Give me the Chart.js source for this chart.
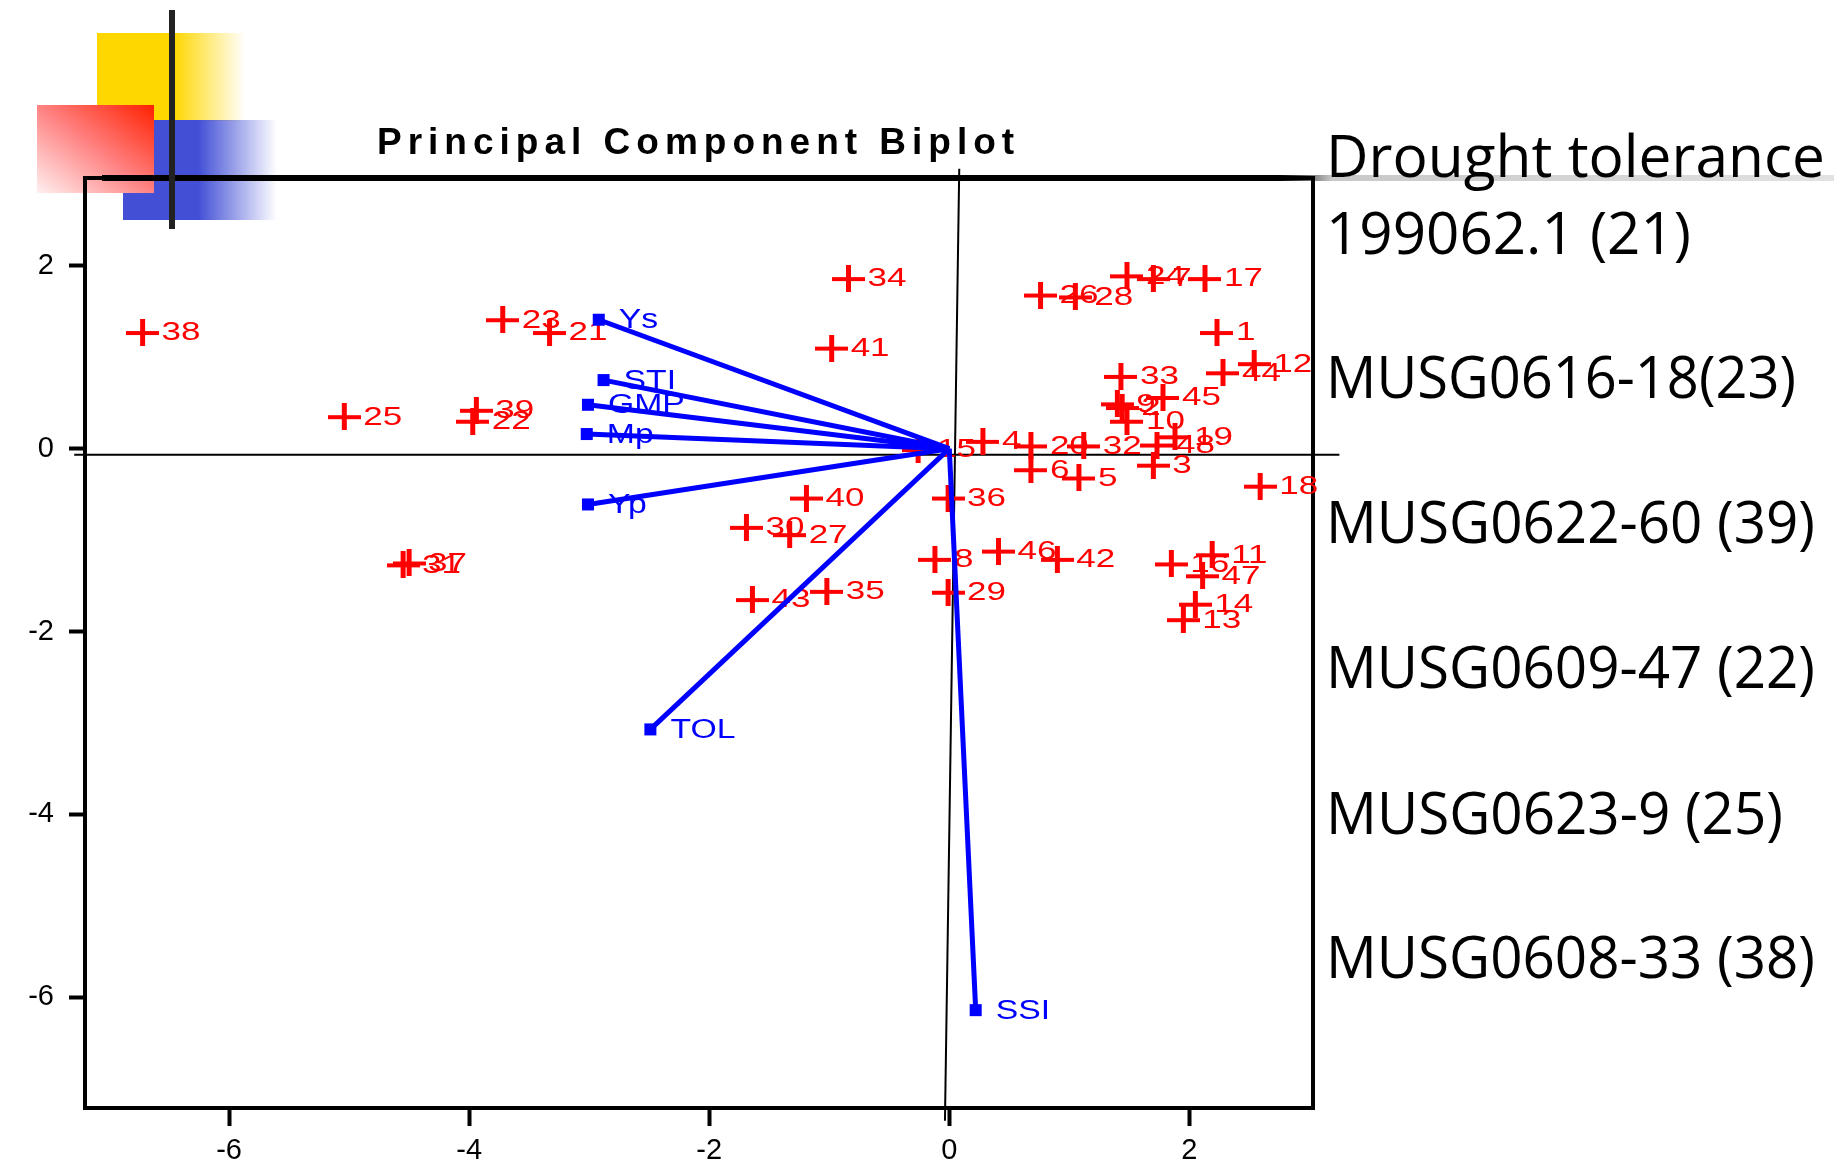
<!DOCTYPE html>
<html>
<head>
<meta charset="utf-8">
<script src="https://cdn.jsdelivr.net/npm/chart.js@4.4.1/dist/chart.umd.min.js"></script>
<style>
  html, body { margin: 0; padding: 0; background: #fff; }
  #wrap { position: relative; width: 1834px; height: 1165px; overflow: hidden; }
  .deco { position: absolute; }
  #yellow { left: 97px; top: 33px; width: 148px; height: 88px;
    background: linear-gradient(to right, #ffd700 0%, #ffd700 52%, rgba(255,255,255,0) 100%); }
  #blue { left: 123px; top: 120px; width: 154px; height: 100px;
    background: linear-gradient(to right, #4350d6 0%, #4350d6 49%, rgba(255,255,255,0) 100%); }
  #red { left: 37px; top: 105px; width: 117px; height: 88px;
    background: linear-gradient(to bottom left, #ff2000 0%, #ff8282 50%, #fff0f0 100%); }
  #rule { left: 102px; top: 175px; width: 1732px; height: 6px;
    background: linear-gradient(to right, #000 0%, #000 68%, #c8c8c8 71%, #e2e2e2 100%); }
  #bar { left: 169px; top: 10px; width: 6px; height: 219px; background: #222; z-index: 3; }
  canvas { position: absolute; left: 0; top: 0; z-index: 2; }
</style>
</head>
<body>
<div id="wrap">
  <div class="deco" id="yellow"></div>
  <div class="deco" id="blue"></div>
  <div class="deco" id="red"></div>
  <div class="deco" id="rule"></div>
  <canvas id="biplot" width="1834" height="1165"></canvas>
  <div class="deco" id="bar"></div>
</div>
<script>
// genotype scores (PC1, PC2)
const genoIds = ['1','2','3','4','5','6','7','8','9','10','11','12','13','14','15','16',
  '17','18','19','20','21','22','23','24','25','26','27','28','29','30','31','32',
  '33','34','35','36','37','38','39','40','41','42','43','44','45','46','47','48'];
const pc1 = [2.23, 1.44, 1.70, 0.28, 1.08, 0.68, 1.70, -0.12, 1.40, 1.48, 2.19, 2.54, 1.95, 2.05, -0.26, 1.85,
  2.13, 2.59, 1.88, 0.68, -3.33, -3.97, -3.72, 1.48, -5.04, 0.76, -1.33, 1.05, -0.01, -1.69, -4.55, 1.12,
  1.43, -0.84, -1.02, -0.01, -4.50, -6.72, -3.94, -1.19, -0.98, 0.90, -1.64, 2.28, 1.78, 0.41, 2.11, 1.73];
const pc2 = [1.27, 0.45, -0.18, 0.08, -0.32, -0.23, 1.86, -1.21, 0.49, 0.30, -1.16, 0.93, -1.87, -1.70, -0.01, -1.26,
  1.86, -0.41, 0.13, 0.03, 1.27, 0.30, 1.41, 1.89, 0.35, 1.68, -0.94, 1.66, -1.57, -0.86, -1.27, 0.03,
  0.79, 1.86, -1.56, -0.54, -1.25, 1.27, 0.42, -0.54, 1.10, -1.21, -1.65, 0.83, 0.56, -1.12, -1.39, 0.04];

// trait loadings (vector ends)
const traitNames = ['Ys', 'STI', 'GMP', 'Mp', 'Yp', 'TOL', 'SSI'];
const traitPc1 = [-2.92, -2.88, -3.01, -3.02, -3.01, -2.49, 0.22];
const traitPc2 = [1.41, 0.75, 0.48, 0.16, -0.61, -3.07, -6.14];

// reference axes through the origin
const hAxisX = [-7.29, 3.25];
const hAxisY = [-0.066, -0.066];
const vAxisX = [0.083, -0.036];
const vAxisY = [3.06, -7.35];

const xTicks = [-6, -4, -2, 0, 2];
const yTicks = [2, 0, -2, -4, -6];

const titleText = 'Principal Component Biplot';
const sideLines = ['Drought tolerance', '199062.1 (21)', 'MUSG0616-18(23)', 'MUSG0622-60 (39)',
  'MUSG0609-47 (22)', 'MUSG0623-9 (25)', 'MUSG0608-33 (38)'];
const sideBaselines = [177, 254, 398, 543, 688, 834, 978];
const sideWidths = [499, 365, 470, 489, 489, 457, 489];

function makeCross(w, h, lw, color) {
  const c = document.createElement('canvas');
  c.width = w; c.height = h;
  const g = c.getContext('2d');
  g.fillStyle = color;
  g.fillRect(0, Math.round((h - lw) / 2), w, lw);
  g.fillRect(Math.round((w - lw - 1) / 2), 0, lw + 1, h);
  return c;
}
const crossImg = makeCross(33, 27, 4, '#ff0000');

const POINTS = 2;
const datasets = [
  { type: 'line', data: hAxisX.map((x, i) => ({ x, y: hAxisY[i] })), borderColor: '#000',
    borderWidth: 2, pointRadius: 0, clip: false, order: 6 },
  { type: 'line', data: vAxisX.map((x, i) => ({ x, y: vAxisY[i] })), borderColor: '#000',
    borderWidth: 2, pointRadius: 0, clip: false, order: 6 },
  { type: 'scatter', data: pc1.map((x, i) => ({ x, y: pc2[i] })), pointStyle: crossImg,
    pointRadius: 16, clip: false, order: 5 }
];
traitNames.forEach((t, i) => {
  datasets.push({
    type: 'line',
    data: [{ x: 0, y: 0 }, { x: traitPc1[i], y: traitPc2[i] }],
    borderColor: '#0000ff', borderWidth: 5,
    pointStyle: 'rect', pointRadius: [0, 8.5], pointBackgroundColor: '#0000ff',
    pointBorderWidth: 0, clip: false, order: 1
  });
});

function stretchText(ctx, text, x, y, sx) {
  ctx.save();
  ctx.translate(x, y);
  ctx.scale(sx, 1);
  ctx.fillText(text, 0, 0);
  ctx.restore();
}

const framePlugin = {
  id: 'frame',
  beforeDatasetsDraw(chart) {
    const { ctx, chartArea: a } = chart;
    ctx.save();
    ctx.strokeStyle = '#000';
    ctx.lineWidth = 4;
    ctx.strokeRect(a.left, a.top, a.right - a.left, a.bottom - a.top);
    ctx.restore();
  },
  afterDatasetDraw(chart, args) {
    if (args.index !== POINTS) return;
    const ctx = chart.ctx;
    ctx.save();
    ctx.fillStyle = '#ff0000';
    ctx.font = '25px "Liberation Sans", Arial, sans-serif';
    ctx.textBaseline = 'middle';
    args.meta.data.forEach((el, i) => stretchText(ctx, genoIds[i], el.x + 19, el.y + 1, 1.4));
    ctx.restore();
  },
  afterDraw(chart) {
    const ctx = chart.ctx;
    ctx.save();
    // vector labels
    ctx.fillStyle = '#0000ff';
    ctx.font = '27px "Liberation Sans", Arial, sans-serif';
    ctx.textBaseline = 'middle';
    traitNames.forEach((t, i) => {
      const el = chart.getDatasetMeta(POINTS + 1 + i).data[1];
      stretchText(ctx, t, el.x + 20, el.y + 1, 1.25);
    });
    // title
    ctx.fillStyle = '#000';
    ctx.textBaseline = 'alphabetic';
    ctx.font = 'bold 37px "Liberation Sans", Arial, sans-serif';
    if ('letterSpacing' in ctx) ctx.letterSpacing = '6px';
    ctx.fillText(titleText, 377, 154);
    if ('letterSpacing' in ctx) ctx.letterSpacing = '0px';
    // side notes
    ctx.font = '59px "Open Sans", sans-serif';
    sideLines.forEach((s, i) => ctx.fillText(s, 1326, sideBaselines[i], sideWidths[i]));
    ctx.restore();
  }
};

const tickFont = { family: '"Liberation Sans", Arial, sans-serif', size: 29 };

new Chart(document.getElementById('biplot'), {
  type: 'scatter',
  data: { datasets },
  options: {
    responsive: false,
    animation: false,
    events: [],
    layout: { padding: { top: 178, right: 521, bottom: 0, left: 0 } },
    plugins: { legend: { display: false }, tooltip: { enabled: false } },
    scales: {
      x: {
        type: 'linear', min: -7.2, max: 3.03,
        afterBuildTicks: s => { s.ticks = xTicks.map(v => ({ value: v })); },
        afterFit: s => { s.height = 57; },
        grid: { drawOnChartArea: false, drawTicks: true, tickLength: 18, tickWidth: 4, tickColor: '#000' },
        border: { display: false },
        ticks: { font: tickFont, color: '#000', padding: 8, maxRotation: 0, autoSkip: false }
      },
      y: {
        type: 'linear', min: -7.21, max: 2.96,
        afterBuildTicks: s => { s.ticks = yTicks.map(v => ({ value: v })); },
        afterFit: s => { s.width = 85; },
        grid: { drawOnChartArea: false, drawTicks: true, tickLength: 16, tickWidth: 4, tickColor: '#000' },
        border: { display: false },
        ticks: { font: tickFont, color: '#000', padding: 15, autoSkip: false }
      }
    }
  },
  plugins: [framePlugin]
});
</script>
</body>
</html>
